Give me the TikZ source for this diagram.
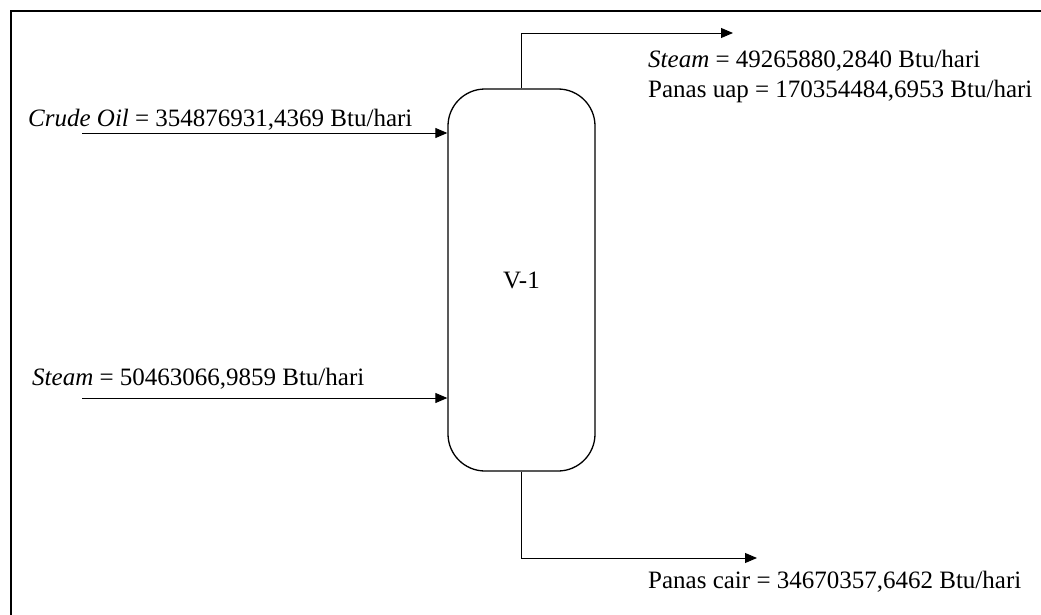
\documentclass[tikz,border=0pt]{standalone}
\usepackage{fontspec}
\setmainfont{Liberation Serif}
\usetikzlibrary{arrows.meta}
\begin{document}
\begin{tikzpicture}[x=1pt,y=-1pt,
  every node/.style={font=\fontsize{25}{30}\selectfont},
  vessel/.style={draw,line width=1.3pt,rounded corners=37pt,minimum width=147pt,minimum height=382pt,inner sep=0pt},
  lbl/.style={anchor=base west,inner sep=0pt},
  flow/.style={line width=0.9pt,-{Triangle[length=12pt,width=10pt]}},
  frameline/.style={line width=2pt}]
\useasboundingbox (0,0) rectangle (1041,615);
\draw[frameline] (11,640) -- (11,11) -- (1060,11);
\node[vessel] (V) at (521.5,280) {V-1};
% inputs
\node[lbl] (tcrude) at (28,127) {\textit{Crude Oil} = 354876931,4369 Btu/hari};
\coordinate (cin) at (82,133);
\draw[flow] (cin) -- (cin -| V.west);
\node[lbl] (tsteamin) at (32,385) {\textit{Steam} = 50463066,9859 Btu/hari};
\coordinate (sin) at (82,398);
\draw[flow] (sin) -- (sin -| V.west);
% top outlet
\coordinate (topend) at (733,33);
\draw[flow] (V.north) |- (topend);
\node[lbl] (tsteamout) at (648,68) {\textit{Steam} = 49265880,2840 Btu/hari};
\node[lbl] (tuap) at (648,98) {Panas uap = 170354484,6953 Btu/hari};
% bottom outlet
\coordinate (botend) at (757,558);
\draw[flow] (V.south) |- (botend);
\node[lbl] (tcair) at (648,588) {Panas cair = 34670357,6462 Btu/hari};
\end{tikzpicture}
\end{document}
